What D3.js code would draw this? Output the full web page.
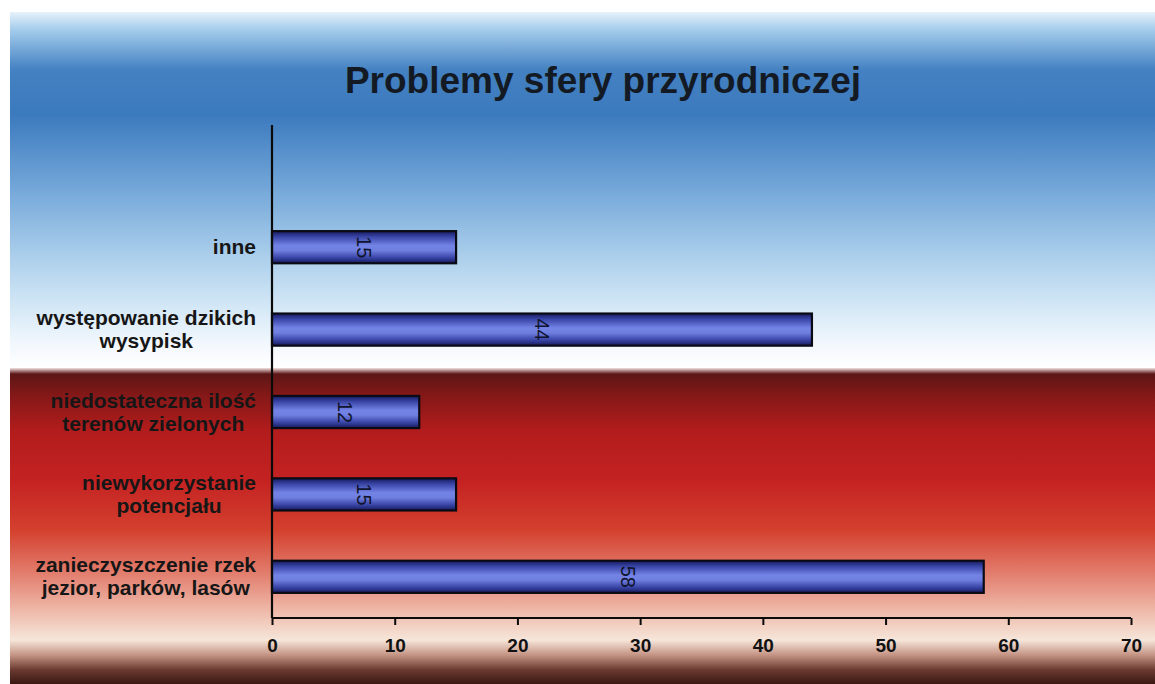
<!DOCTYPE html>
<html>
<head>
<meta charset="utf-8">
<script src="https://cdn.jsdelivr.net/npm/d3@7"></script>
<style>
  html, body { margin: 0; padding: 0; background: #ffffff; }
  svg { display: block; }
</style>
</head>
<body>
<svg id="chart" width="1155" height="684"></svg>
<script>
const title = "Problemy sfery przyrodniczej";
const categories = [
  ["inne"],
  ["występowanie dzikich", "wysypisk"],
  ["niedostateczna ilość", "terenów zielonych"],
  ["niewykorzystanie", "potencjału"],
  ["zanieczyszczenie rzek", "jezior, parków, lasów"]
];
const values = [15, 44, 12, 15, 58];
const ticks = [0, 10, 20, 30, 40, 50, 60, 70];

const W = 1155, H = 684;
const svg = d3.select("#chart");
const defs = svg.append("defs");

function grad(id, stops, vertical = true) {
  const g = defs.append("linearGradient").attr("id", id)
    .attr("x1", 0).attr("y1", 0).attr("x2", vertical ? 0 : 1).attr("y2", vertical ? 1 : 0);
  stops.forEach(([o, c]) => g.append("stop").attr("offset", o).attr("stop-color", c));
}

// backgrounds
const blueTop = 12, split = 368, leftEdge = 10;
const bluePos = [[12,"#e6f2fb"],[30,"#a3cbeb"],[70,"#4381c2"],[115,"#3c7abe"],[180,"#6da2d6"],[250,"#a6cbea"],[310,"#d6e9f7"],[345,"#f3f8fd"],[368,"#ffffff"]];
grad("blueBg", bluePos.map(([y,c]) => [(y - blueTop)/(split - blueTop), c]));
const redPos = [[368,"#f2e2e2"],[374,"#5c1616"],[395,"#841818"],[430,"#b21c1c"],[480,"#c42222"],[530,"#d4402e"],[575,"#e38070"],[610,"#eeb8a8"],[640,"#f6e6da"],[655,"#c49484"],[670,"#6a3a30"],[684,"#3a1812"]];
grad("redBg", redPos.map(([y,c]) => [(y - split)/(H - split), c]));
grad("barGrad", [[0,"#151a5c"],[0.18,"#3a46a8"],[0.45,"#7484e6"],[0.6,"#6f7fe0"],[0.82,"#3a46a8"],[1,"#151a5c"]]);

svg.append("rect").attr("x", leftEdge).attr("y", blueTop).attr("width", W - leftEdge).attr("height", split - blueTop).attr("fill", "url(#blueBg)");
svg.append("rect").attr("x", leftEdge).attr("y", split).attr("width", W - leftEdge).attr("height", H - split).attr("fill", "url(#redBg)");

// scales
const x = d3.scaleLinear().domain([0, 70]).range([272, 1131]);
const y = d3.scaleBand().domain(d3.range(categories.length)).range([206, 618])
  .paddingInner(0.61).paddingOuter(0.305);

// title
svg.append("text").attr("x", 603).attr("y", 93).attr("text-anchor", "middle")
  .attr("font-family", "Liberation Sans, Arial, sans-serif").attr("font-weight", "bold")
  .attr("font-size", 37).attr("fill", "#141a24").text(title);

// bars
const bars = svg.append("g");
bars.selectAll("rect").data(values).join("rect")
  .attr("x", x(0)).attr("y", (d, i) => y(i))
  .attr("width", d => x(d) - x(0)).attr("height", y.bandwidth())
  .attr("fill", "url(#barGrad)").attr("stroke", "#0a0a14").attr("stroke-width", 2.2);

// value labels (rotated)
bars.selectAll("text").data(values).join("text")
  .attr("transform", (d, i) => `translate(${x(d / 2)},${y(i) + y.bandwidth() / 2}) rotate(90)`)
  .attr("text-anchor", "middle").attr("dy", "0.36em")
  .attr("font-family", "Liberation Sans, Arial, sans-serif")
  .attr("font-size", 20).attr("fill", "#10142e").text(d => d);

// axes
const axisY = 618;
svg.append("line").attr("x1", x(0)).attr("x2", x(0)).attr("y1", 125).attr("y2", axisY)
  .attr("stroke", "#0a0a0a").attr("stroke-width", 2.2);
const xAxis = d3.axisBottom(x).tickValues(ticks).tickSize(7).tickPadding(14).tickFormat(d3.format("d"));
const gx = svg.append("g").attr("transform", `translate(0,${axisY})`).call(xAxis);
gx.select(".domain").attr("stroke", "#0a0a0a").attr("stroke-width", 2.2).attr("d", `M${x(0)},0H${x(70)}`);
gx.selectAll(".tick line").attr("stroke", "#0a0a0a").attr("stroke-width", 2);
gx.selectAll(".tick text").attr("font-family", "Liberation Sans, Arial, sans-serif")
  .attr("font-weight", "bold").attr("font-size", 19).attr("fill", "#111111");

// category labels: block right-aligned at 256, lines centered
const labelRight = 256, lineH = 23;
const lab = svg.append("g").attr("font-family", "Liberation Sans, Arial, sans-serif")
  .attr("font-weight", "bold").attr("font-size", 21).attr("fill", "#161616");
categories.forEach((lines, i) => {
  const cy = y(i) + y.bandwidth() / 2;
  const g = lab.append("g");
  const texts = lines.map((t, k) => g.append("text")
    .attr("y", cy + 7 - (lines.length - 1) * lineH / 2 + k * lineH)
    .attr("text-anchor", "middle").text(t));
  const maxW = d3.max(texts, t => t.node().getComputedTextLength());
  texts.forEach(t => t.attr("x", labelRight - maxW / 2));
});
</script>
</body>
</html>
